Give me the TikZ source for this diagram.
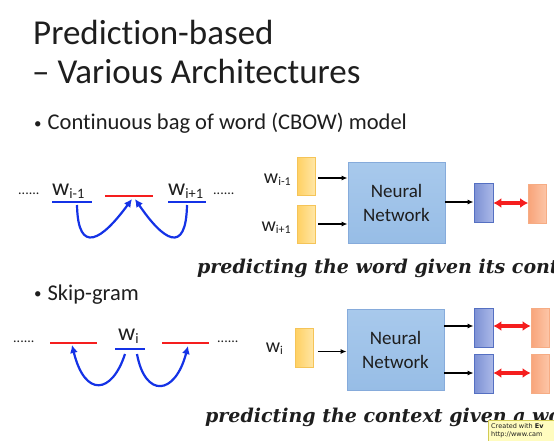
\documentclass[tikz,border=0pt]{standalone}
\usepackage{fontspec}
\setmainfont{Carlito}[Ligatures=NoCommon]
\newfontfamily\slidefont{DejaVu Serif}
\newfontfamily\notefont{DejaVu Sans}
\usetikzlibrary{arrows.meta}

\definecolor{inkgray}{HTML}{1E1E1E}
\definecolor{wordblue}{HTML}{1432E6}
\definecolor{wordred}{HTML}{F51E1E}
\definecolor{embdark}{HTML}{FFD062}
\definecolor{emblight}{HTML}{FFE6A6}
\definecolor{embline}{HTML}{F5C458}
\definecolor{nntop}{HTML}{A8C9EC}
\definecolor{nnbot}{HTML}{97BDE6}
\definecolor{nnline}{HTML}{86ABDB}
\definecolor{outdark}{HTML}{7C90D4}
\definecolor{outlight}{HTML}{ABB9E8}
\definecolor{outline}{HTML}{5570C2}
\definecolor{tgtdark}{HTML}{F8A47A}
\definecolor{tgtlight}{HTML}{FCC6A8}
\definecolor{tgtline}{HTML}{F6AC84}
\newcommand{\wsub}[1]{w\raisebox{-0.14em}{\fontsize{0.6em}{0.6em}\selectfont #1}}
\newcommand{\dotitem}{{\fontsize{15}{15}\selectfont\raisebox{1.5pt}{•}}\hspace{6pt}}

\begin{document}
\begin{tikzpicture}[x=1pt, y=-1pt, inner sep=0pt, text=inkgray,
    embbox/.style={draw=embline, line width=0.8pt, left color=embdark, right color=emblight, minimum width=18pt, minimum height=38pt},
    nnbox/.style={draw=nnline, line width=0.8pt, top color=nntop, bottom color=nnbot, minimum width=97pt, minimum height=81pt, align=center, font=\fontsize{19}{24}\selectfont},
    outbox/.style={draw=outline, line width=0.8pt, left color=outdark, right color=outlight, minimum width=19pt, minimum height=39pt},
    tgtbox/.style={draw=tgtline, line width=0.8pt, left color=tgtdark, right color=tgtlight, minimum width=18pt, minimum height=39pt},
    wlabel/.style={font=\fontsize{24}{24}\selectfont},
    inlabel/.style={font=\fontsize{20}{20}\selectfont},
    dots/.style={font=\fontsize{14}{14}\selectfont},
    feed/.style={-{Latex[length=6pt, width=5pt]}, line width=1.2pt, black},
    match/.style={{Latex[length=8pt, width=10pt]}-{Latex[length=8pt, width=10pt]}, line width=3.5pt, wordred},
    ctx/.style={-{Latex[length=8pt, width=8pt]}, line width=2.2pt, wordblue},
    slot/.style={line width=2.8pt}]

  \path[use as bounding box] (0,0) rectangle (554,441);
  \clip (0,0) rectangle (554,441);

  % title
  \node[anchor=base west, font=\fontsize{35}{35}\selectfont] (title1) at (33,45) {Prediction-based};
  \node[anchor=base west, font=\fontsize{35}{35}\selectfont] (title2) at (32,84) {– Various Architectures};
  \node[anchor=base west, font=\fontsize{22.5}{22.5}\selectfont] (cbow) at (34,130) {\dotitem Continuous bag of word (CBOW) model};
  \node[anchor=base west, font=\fontsize{22.5}{22.5}\selectfont] (skip) at (34,300) {\dotitem Skip-gram};

  % cbow, word line
  \node[dots, anchor=base west] (dL1) at (18,194) {......};
  \node[wlabel, anchor=base west] (wa) at (52,195) {\wsub{i-1}};
  \node[wlabel, anchor=base west] (wb) at (168,195) {\wsub{i+1}};
  \node[dots, anchor=base west] (dR1) at (213,194) {......};
  \draw[slot, wordblue] (52,202) -- (92,202);
  \draw[slot, wordred] (105,196) -- (153,196);
  \draw[slot, wordblue] (168,202) -- (206,202);
  \coordinate (fromA) at (77,205);
  \coordinate (fromB) at (187,205);
  \coordinate (gapL) at (132,199);
  \coordinate (gapR) at (135,199);
  \draw[ctx] (fromA) .. controls (78,256) and (102,240) .. (gapL);
  \draw[ctx] (fromB) .. controls (186,256) and (163,240) .. (gapR);

  % cbow, network
  \node[embbox] (embA) at (306,176) {};
  \node[embbox] (embB) at (306,224) {};
  \node[inlabel, anchor=base east] (inA) at (291,183) {\wsub{i-1}};
  \node[inlabel, anchor=base east] (inB) at (291,231) {\wsub{i+1}};
  \node[nnbox] (nn1) at (396.5,202.5) {Neural\\Network};
  \node[outbox] (out1) at (483.5,203) {};
  \node[tgtbox] (tgt1) at (537.5,204) {};
  \draw[feed] (embA.east) ++(3,2) -- (nn1.west |- 0,178);
  \draw[feed] (embB.east) ++(3,0) -- (nn1.west |- 0,224);
  \draw[feed] (nn1.east |- 0,202) -- (out1.west |- 0,202);
  \draw[match] (out1.east) -- (tgt1.west |- out1.east);

  \node[anchor=base west, font=\slidefont\bfseries\itshape\fontsize{19}{19}\selectfont] (cap1) at (197,273) {predicting the word given its cont};

  % skip-gram, word line
  \node[dots, anchor=base west] (dL2) at (13,342) {......};
  \node[wlabel, anchor=base west] (wc) at (118,340) {\wsub{i}};
  \node[dots, anchor=base west] (dR2) at (217,342) {......};
  \draw[slot, wordred] (50,343) -- (97,343);
  \draw[slot, wordblue] (115,349) -- (145,349);
  \draw[slot, wordred] (162,343) -- (209,343);
  \coordinate (fromC1) at (125,354);
  \coordinate (fromC2) at (137,354);
  \coordinate (ctxL) at (72,345);
  \coordinate (ctxR) at (188,346);
  \draw[ctx] (fromC1) .. controls (112,394) and (85,398) .. (ctxL);
  \draw[ctx] (fromC2) .. controls (145,398) and (175,396) .. (ctxR);

  % skip-gram, network
  \node[embbox, minimum height=39pt] (embC) at (304.5,347.5) {};
  \node[inlabel, anchor=base east] (inC) at (283,352) {\wsub{i}};
  \node[nnbox] (nn2) at (395.5,349.5) {Neural\\Network};
  \node[outbox] (out2) at (483.5,328) {};
  \node[outbox] (out3) at (483.5,374) {};
  \node[tgtbox] (tgt2) at (540,327.5) {};
  \node[tgtbox] (tgt3) at (540,374) {};
  \draw[feed] (embC.east) ++(4,4) -- (nn2.west |- 0,351.5);
  \draw[feed] (nn2.east |- 0,326) -- (out2.west |- 0,326);
  \draw[feed] (nn2.east |- 0,373) -- (out3.west |- 0,373);
  \draw[match] (out2.east |- 0,326) -- (tgt2.west |- 0,326);
  \draw[match] (out3.east |- 0,373) -- (tgt3.west |- 0,373);

  \node[anchor=base west, font=\slidefont\bfseries\itshape\fontsize{19}{19}\selectfont] (cap2) at (205,422) {predicting the context given a wo};

  % watermark
  \node[draw=yellow!60!gray, fill=yellow!25, anchor=north west, minimum width=70pt, minimum height=24pt] (stamp) at (488,420) {};
  \node[anchor=north west, font=\notefont\fontsize{6.5}{8}\selectfont, align=left] (stamptxt) at (491,423) {Created with \textbf{Ev}\\http://www.cam};
\end{tikzpicture}
\end{document}
